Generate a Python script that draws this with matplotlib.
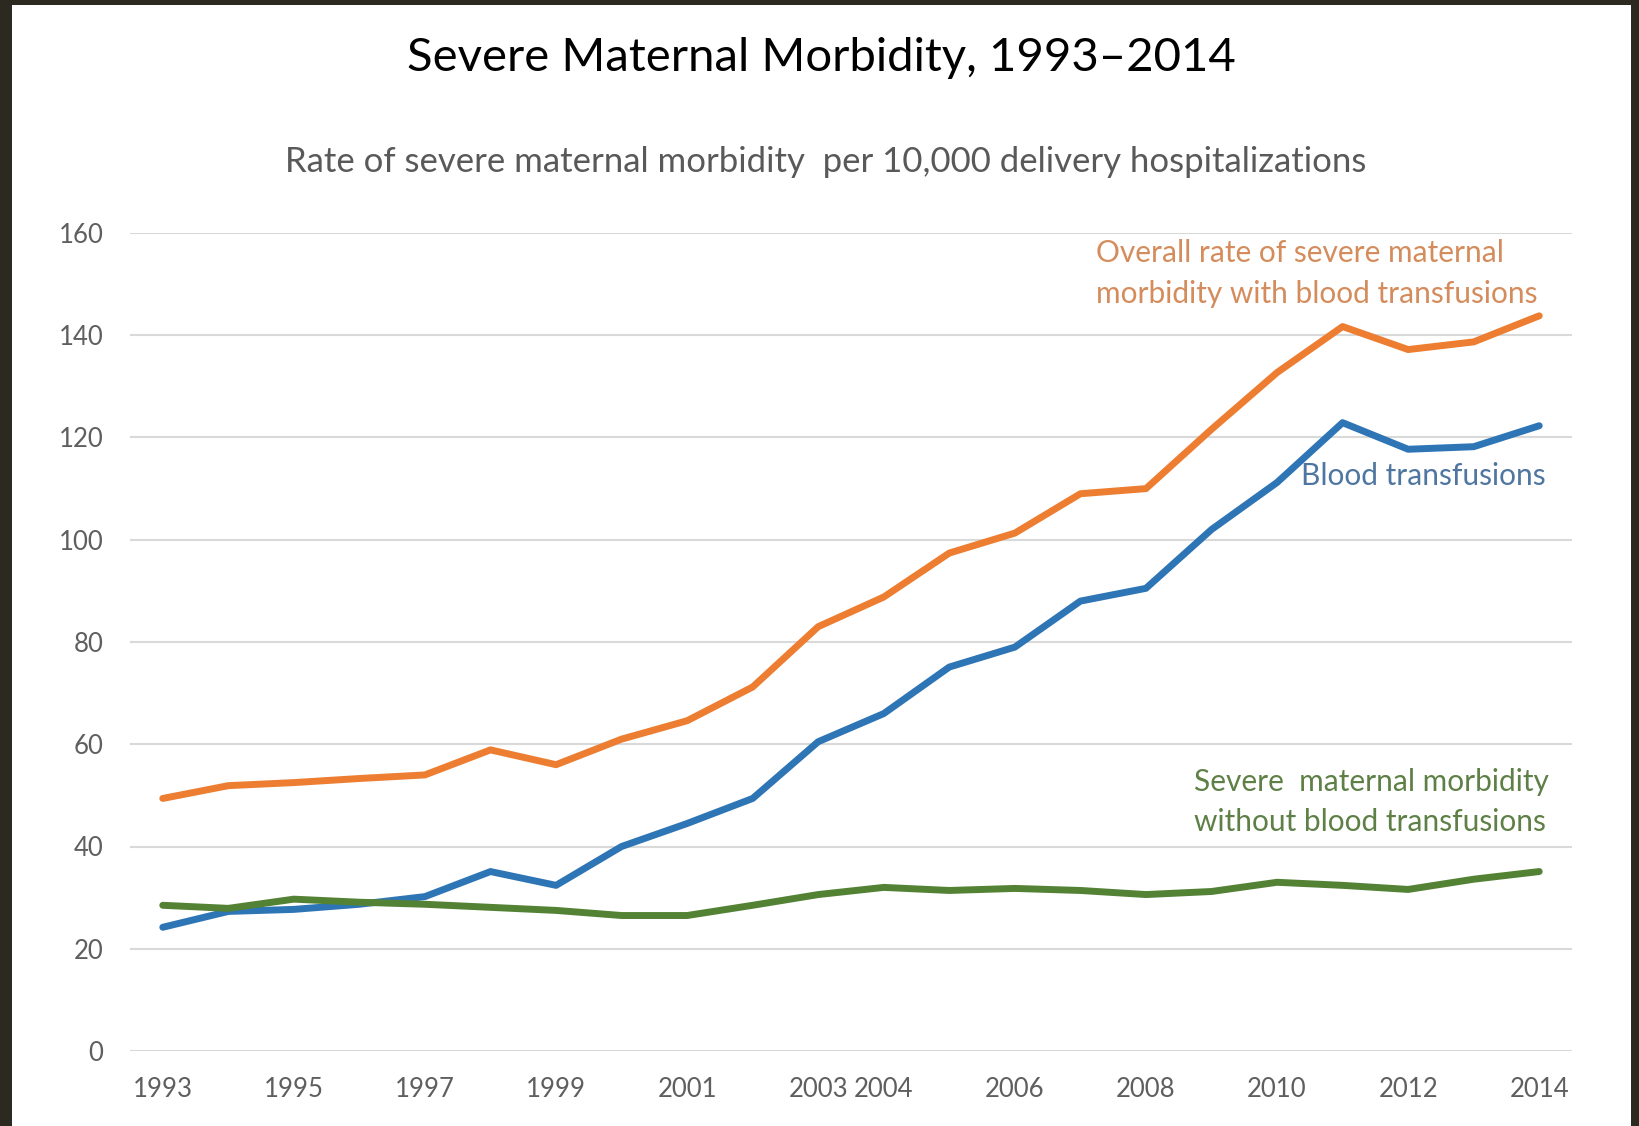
import matplotlib
matplotlib.use("Agg")
import matplotlib.pyplot as plt
from matplotlib.patches import Rectangle

# Rates per 10,000 delivery hospitalizations
years = list(range(1993, 2015))
overall = [49.4, 51.9, 52.5, 53.3, 54.0, 58.9, 56.0, 61.0, 64.6, 71.2, 83.0,
           88.8, 97.4, 101.3, 109.0, 110.0, 121.6, 132.7, 141.7, 137.2, 138.7, 143.8]
transfusions = [24.2, 27.3, 27.7, 28.7, 30.2, 35.1, 32.4, 40.0, 44.5, 49.4, 60.5,
                66.0, 75.1, 79.0, 88.0, 90.5, 102.0, 111.2, 122.9, 117.7, 118.2, 122.3]
without_transfusions = [28.5, 27.9, 29.7, 29.1, 28.7, 28.1, 27.5, 26.5, 26.5, 28.5, 30.6,
                        32.0, 31.4, 31.8, 31.4, 30.6, 31.2, 33.0, 32.4, 31.6, 33.6, 35.1]
tick_years = [1993, 1995, 1997, 1999, 2001, 2003, 2004, 2006, 2008, 2010, 2012, 2014]
y_ticks = [0, 20, 40, 60, 80, 100, 120, 140, 160]

plt.rcParams['font.family'] = ['Lato', 'DejaVu Sans']

W, H = 1640, 1126
fig = plt.figure(figsize=(W / 100, H / 100), dpi=100)
fig.patch.set_facecolor('white')

# dark frame around the slide
frame = '#2b2920'
for (x0, y0, w, h) in [(0, 0, 12, H), (0, H - 5, W, 5), (1631, 0, W - 1631, H)]:
    fig.add_artist(Rectangle((x0 / W, y0 / H), w / W, h / H, transform=fig.transFigure,
                             facecolor=frame, edgecolor='none', zorder=10))

ax = fig.add_axes([130 / W, (H - 1051) / H, 1442 / W, 818 / H])
ax.set_xlim(1992.5, 2014.5)
ax.set_ylim(0, 160)

for y in y_ticks:
    ax.axhline(y, color='#d9d9d9', lw=1.5, zorder=1)

orange = '#ed7d31'
blue = '#2e75b6'
green = '#548235'
ax.plot(years, overall, color=orange, lw=5, solid_joinstyle='round', solid_capstyle='round', zorder=3)
ax.plot(years, transfusions, color=blue, lw=5, solid_joinstyle='round', solid_capstyle='round', zorder=3)
ax.plot(years, without_transfusions, color=green, lw=5, solid_joinstyle='round', solid_capstyle='round', zorder=3)

for s in ax.spines.values():
    s.set_visible(False)
ax.set_xticks(tick_years)
ax.set_xticklabels([str(t) for t in tick_years])
ax.set_yticks(y_ticks)
ax.tick_params(length=0, labelsize=18.5, labelcolor='#5f5f5f')
ax.tick_params(axis='x', pad=19)
ax.tick_params(axis='y', pad=19)

ax.text(2007.24, 152, 'Overall rate of severe maternal\nmorbidity with blood transfusions',
        color='#d48c5c', fontsize=21.5, ha='left', va='center', linespacing=1.56)
ax.text(2014.1, 112.5, 'Blood transfusions', color='#4f76a0', fontsize=21.5,
        ha='right', va='center')
ax.text(2008.73, 48.7, 'Severe  maternal morbidity\nwithout blood transfusions',
        color='#5e8046', fontsize=21.5, ha='left', va='center', linespacing=1.56)

fig.text(821 / W, 1 - 58 / H, 'Severe Maternal Morbidity, 1993–2014', fontsize=34,
         color='black', ha='center', va='center')
fig.text(826 / W, 1 - 162 / H,
         'Rate of severe maternal morbidity  per 10,000 delivery hospitalizations',
         fontsize=25, color='#595959', ha='center', va='center')

fig.savefig('out.png', dpi=100, facecolor='white')
